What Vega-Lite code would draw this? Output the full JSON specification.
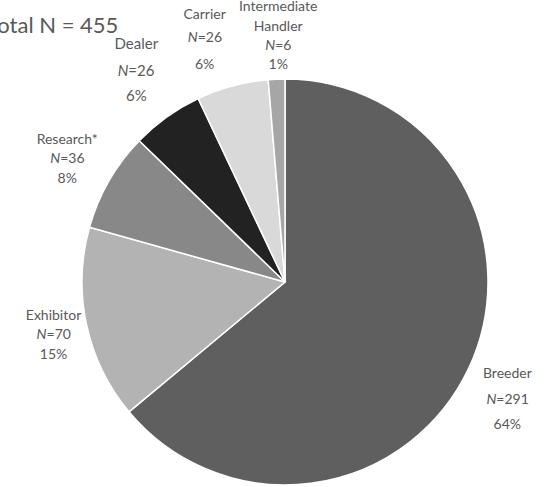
{
  "$schema": "https://vega.github.io/schema/vega-lite/v6.json",
  "width": 518,
  "height": 410,
  "autosize": {"type": "none"},
  "padding": {"left": 26, "top": 77, "right": 0, "bottom": 0},
  "background": "white",
  "title": {
    "text": "Total N = 455",
    "anchor": "start",
    "frame": "group",
    "orient": "top",
    "font": "Lato",
    "fontSize": 22,
    "fontWeight": "normal",
    "color": "#595959",
    "baseline": "alphabetic",
    "dx": -39,
    "offset": -55
  },
  "config": {
    "view": {"stroke": null},
    "text": {"font": "Lato", "fontSize": 14, "color": "#595959", "baseline": "middle"}
  },
  "data": {
    "values": [
      {"role": "Breeder", "n": 291, "pct": "64%", "idx": 1},
      {"role": "Exhibitor", "n": 70, "pct": "15%", "idx": 2},
      {"role": "Research*", "n": 36, "pct": "8%", "idx": 3},
      {"role": "Dealer", "n": 26, "pct": "6%", "idx": 4},
      {"role": "Carrier", "n": 26, "pct": "6%", "idx": 5},
      {"role": "Intermediate Handler", "n": 6, "pct": "1%", "idx": 6}
    ]
  },
  "transform": [
    {"stack": "n", "groupby": [], "sort": [{"field": "idx", "order": "ascending"}], "as": ["t0", "t1"]},
    {"calculate": "(datum.t0 + datum.t1) / 2", "as": "tMid"},
    {"calculate": "'=' + datum.n", "as": "nText"},
    {"calculate": "datum.role === 'Intermediate Handler' ? ['Intermediate', 'Handler'] : datum.role", "as": "nameLines"}
  ],
  "layer": [
    {
      "mark": {"type": "arc", "outerRadius": 203, "stroke": "white", "strokeWidth": 1.5},
      "encoding": {
        "theta": {"field": "n", "type": "quantitative", "stack": true, "scale": {"nice": false, "zero": true}},
        "order": {"field": "idx", "type": "quantitative"},
        "color": {
          "field": "role",
          "type": "nominal",
          "scale": {
            "domain": ["Breeder", "Exhibitor", "Research*", "Dealer", "Carrier", "Intermediate Handler"],
            "range": ["#5f5f5f", "#b3b3b3", "#888888", "#222222", "#d9d9d9", "#a6a6a6"]
          },
          "legend": null
        }
      }
    },

    {"transform": [{"filter": "datum.idx == 1"}], "mark": {"type": "text", "radius": 250, "dx": -4, "dy": -14}, "encoding": {"theta": {"field": "tMid", "type": "quantitative"}, "text": {"field": "nameLines"}}},
    {"transform": [{"filter": "datum.idx == 1"}], "mark": {"type": "text", "radius": 250, "dx": -15, "dy": 12, "align": "right", "fontStyle": "italic", "text": "N"}, "encoding": {"theta": {"field": "tMid", "type": "quantitative"}}},
    {"transform": [{"filter": "datum.idx == 1"}], "mark": {"type": "text", "radius": 250, "dx": -15, "dy": 12, "align": "left"}, "encoding": {"theta": {"field": "tMid", "type": "quantitative"}, "text": {"field": "nText"}}},
    {"transform": [{"filter": "datum.idx == 1"}], "mark": {"type": "text", "radius": 250, "dx": -4, "dy": 37}, "encoding": {"theta": {"field": "tMid", "type": "quantitative"}, "text": {"field": "pct"}}},

    {"transform": [{"filter": "datum.idx == 2"}], "mark": {"type": "text", "radius": 250, "dx": 13, "dy": -18}, "encoding": {"theta": {"field": "tMid", "type": "quantitative"}, "text": {"field": "nameLines"}}},
    {"transform": [{"filter": "datum.idx == 2"}], "mark": {"type": "text", "radius": 250, "dx": 6, "dy": 1, "align": "right", "fontStyle": "italic", "text": "N"}, "encoding": {"theta": {"field": "tMid", "type": "quantitative"}}},
    {"transform": [{"filter": "datum.idx == 2"}], "mark": {"type": "text", "radius": 250, "dx": 6, "dy": 1, "align": "left"}, "encoding": {"theta": {"field": "tMid", "type": "quantitative"}, "text": {"field": "nText"}}},
    {"transform": [{"filter": "datum.idx == 2"}], "mark": {"type": "text", "radius": 250, "dx": 13, "dy": 21}, "encoding": {"theta": {"field": "tMid", "type": "quantitative"}, "text": {"field": "pct"}}},

    {"transform": [{"filter": "datum.idx == 3"}], "mark": {"type": "text", "radius": 250, "dx": -1, "dy": -17}, "encoding": {"theta": {"field": "tMid", "type": "quantitative"}, "text": {"field": "nameLines"}}},
    {"transform": [{"filter": "datum.idx == 3"}], "mark": {"type": "text", "radius": 250, "dx": -8, "dy": 2, "align": "right", "fontStyle": "italic", "text": "N"}, "encoding": {"theta": {"field": "tMid", "type": "quantitative"}}},
    {"transform": [{"filter": "datum.idx == 3"}], "mark": {"type": "text", "radius": 250, "dx": -8, "dy": 2, "align": "left"}, "encoding": {"theta": {"field": "tMid", "type": "quantitative"}, "text": {"field": "nText"}}},
    {"transform": [{"filter": "datum.idx == 3"}], "mark": {"type": "text", "radius": 250, "dx": -1, "dy": 22}, "encoding": {"theta": {"field": "tMid", "type": "quantitative"}, "text": {"field": "pct"}}},

    {"transform": [{"filter": "datum.idx == 4"}], "mark": {"type": "text", "radius": 252, "fontSize": 15, "dx": -2, "dy": -33}, "encoding": {"theta": {"field": "tMid", "type": "quantitative"}, "text": {"field": "nameLines"}}},
    {"transform": [{"filter": "datum.idx == 4"}], "mark": {"type": "text", "radius": 252, "fontSize": 15, "dx": -10, "dy": -6, "align": "right", "fontStyle": "italic", "text": "N"}, "encoding": {"theta": {"field": "tMid", "type": "quantitative"}}},
    {"transform": [{"filter": "datum.idx == 4"}], "mark": {"type": "text", "radius": 252, "fontSize": 15, "dx": -10, "dy": -6, "align": "left"}, "encoding": {"theta": {"field": "tMid", "type": "quantitative"}, "text": {"field": "nText"}}},
    {"transform": [{"filter": "datum.idx == 4"}], "mark": {"type": "text", "radius": 252, "fontSize": 15, "dx": -2, "dy": 19}, "encoding": {"theta": {"field": "tMid", "type": "quantitative"}, "text": {"field": "pct"}}},

    {"transform": [{"filter": "datum.idx == 5"}], "mark": {"type": "text", "radius": 252, "dx": -15, "dy": -24}, "encoding": {"theta": {"field": "tMid", "type": "quantitative"}, "text": {"field": "nameLines"}}},
    {"transform": [{"filter": "datum.idx == 5"}], "mark": {"type": "text", "radius": 252, "dx": -22, "dy": -1, "align": "right", "fontStyle": "italic", "text": "N"}, "encoding": {"theta": {"field": "tMid", "type": "quantitative"}}},
    {"transform": [{"filter": "datum.idx == 5"}], "mark": {"type": "text", "radius": 252, "dx": -22, "dy": -1, "align": "left"}, "encoding": {"theta": {"field": "tMid", "type": "quantitative"}, "text": {"field": "nText"}}},
    {"transform": [{"filter": "datum.idx == 5"}], "mark": {"type": "text", "radius": 252, "dx": -15, "dy": 26}, "encoding": {"theta": {"field": "tMid", "type": "quantitative"}, "text": {"field": "pct"}}},

    {"transform": [{"filter": "datum.idx == 6"}], "mark": {"type": "text", "radius": 237, "dx": 3, "dy": -38, "lineHeight": 19.5}, "encoding": {"theta": {"field": "tMid", "type": "quantitative"}, "text": {"field": "nameLines"}}},
    {"transform": [{"filter": "datum.idx == 6"}], "mark": {"type": "text", "radius": 237, "dx": 0, "dy": 1, "align": "right", "fontStyle": "italic", "text": "N"}, "encoding": {"theta": {"field": "tMid", "type": "quantitative"}}},
    {"transform": [{"filter": "datum.idx == 6"}], "mark": {"type": "text", "radius": 237, "dx": 0, "dy": 1, "align": "left"}, "encoding": {"theta": {"field": "tMid", "type": "quantitative"}, "text": {"field": "nText"}}},
    {"transform": [{"filter": "datum.idx == 6"}], "mark": {"type": "text", "radius": 237, "dx": 3, "dy": 20}, "encoding": {"theta": {"field": "tMid", "type": "quantitative"}, "text": {"field": "pct"}}}
  ]
}
